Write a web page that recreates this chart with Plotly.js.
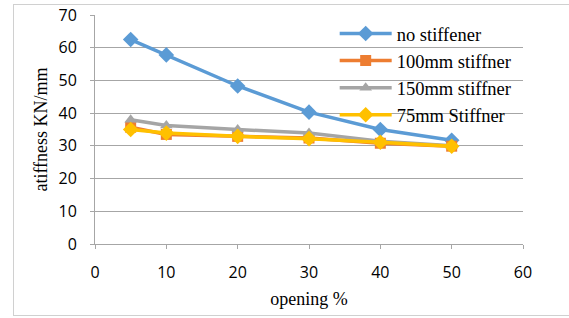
<!DOCTYPE html>
<html><head><meta charset="utf-8">
<script src="https://cdn.plot.ly/plotly-3.0.1.min.js"></script>
<style>
html,body{margin:0;padding:0;background:#fff;}
#wrap{position:relative;width:569px;height:318px;}
#chart{width:569px;height:318px;}
#frame{position:absolute;left:13px;top:4px;width:600px;height:312px;border:1px solid #d0d0d0;pointer-events:none;box-sizing:border-box;}
</style></head>
<body><div id="wrap"><div id="chart"></div><div id="frame"></div></div>
<script>
const opening = [5, 10, 20, 30, 40, 50];
const noStiffener = [62.5, 57.8, 48.3, 40.3, 35.0, 31.7];
const stiff100 = [35.7, 33.5, 32.9, 32.4, 30.8, 29.9];
const stiff150 = [38.0, 36.2, 35.0, 33.9, 31.4, 30.0];
const stiff75 = [35.0, 33.9, 32.9, 32.2, 31.1, 29.9];
const seriesNames = ["no stiffener", "100mm stiffner", "150mm stiffner", "75mm Stiffner"];
const xTicks = [0, 10, 20, 30, 40, 50, 60];
const yTicks = [0, 10, 20, 30, 40, 50, 60, 70];

function tr(y, name, color, symbol, size, group) {
  return {x: opening, y: y, name: name, type: 'scatter', mode: 'lines+markers',
    legendgroup: group,
    line: {color: color, width: 3.5},
    marker: {color: color, symbol: symbol, size: size}};
}
const data = [
  tr(noStiffener, seriesNames[0], '#5b9bd5', 'diamond', 12, 'a'),
  tr(stiff100, seriesNames[1], '#ed7d31', 'square', 11, 'b'),
  tr(stiff150, seriesNames[2], '#a5a5a5', 'triangle-up', 11, 'c'),
  tr(stiff75, seriesNames[3], '#ffc000', 'diamond', 12, 'd')
];
const layout = {
  width: 569, height: 318,
  margin: {l: 95, r: 46, t: 15, b: 74},
  paper_bgcolor: '#fff', plot_bgcolor: '#fff',
  showlegend: true,
  legend: {x: 0.56, y: 1.0, xanchor: 'left', yanchor: 'top', bgcolor: 'rgba(0,0,0,0)',
    font: {family: 'Liberation Serif', size: 18.5, color: '#000'}, tracegroupgap: 0, itemwidth: 52},
  xaxis: {range: [0, 60], tickvals: xTicks, ticks: 'outside', ticklen: 4, tickcolor: '#a6a6a6',
    showline: true, linecolor: '#a6a6a6', linewidth: 1, showgrid: false, zeroline: false,
    ticklabelstandoff: 10,
    tickfont: {family: 'Open Sans', size: 16, color: '#000'},
    title: {text: 'opening %', font: {family: 'Liberation Serif', size: 18, color: '#000'}, standoff: 10}},
  yaxis: {range: [0, 70], tickvals: yTicks, ticks: 'outside', ticklen: 4, tickcolor: '#a6a6a6',
    showline: true, linecolor: '#a6a6a6', linewidth: 1, showgrid: true, gridcolor: '#a6a6a6', gridwidth: 1,
    zeroline: false, ticklabelstandoff: 10,
    tickfont: {family: 'Open Sans', size: 16, color: '#000'},
    title: {text: 'atiffness KN/mm', font: {family: 'Liberation Serif', size: 18, color: '#000'}, standoff: 6}}
};
Plotly.newPlot('chart', data, layout, {displayModeBar: false, staticPlot: true});
</script></body></html>
